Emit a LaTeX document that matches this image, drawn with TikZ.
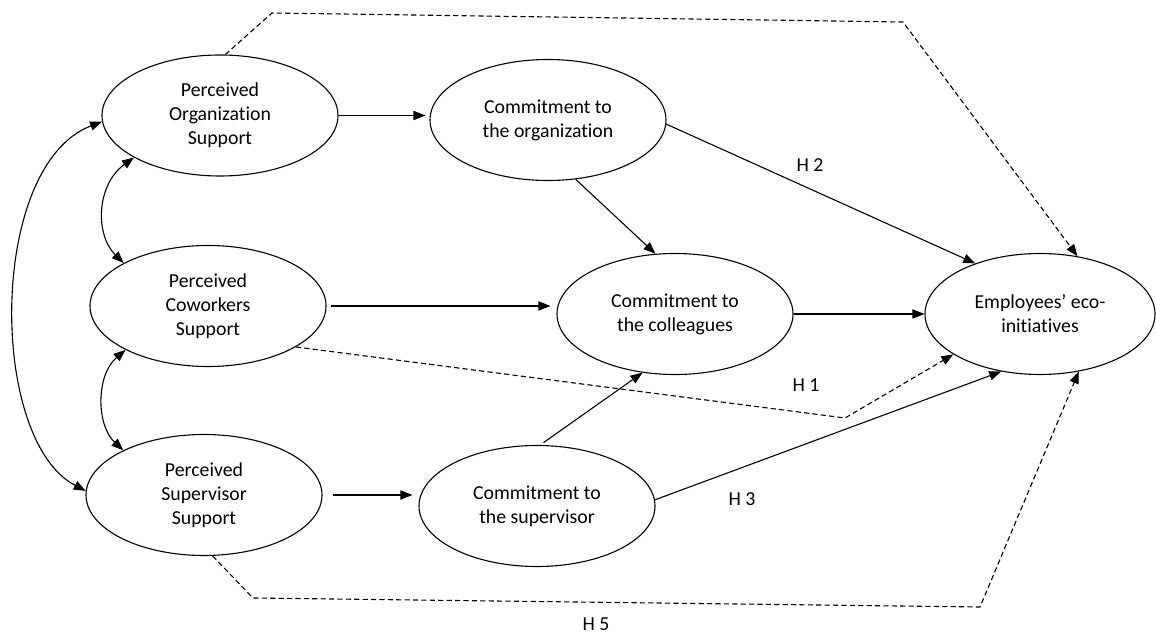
\documentclass[tikz,border=0pt]{standalone}
\usepackage{fontspec}
\setmainfont{Carlito}[Ligatures=NoCommon]
\usetikzlibrary{shapes.geometric,arrows.meta}
\begin{document}
\begin{tikzpicture}[x=0.5pt,y=-0.5pt,
  txt/.style={font=\fontsize{9.9}{12}\selectfont},
  construct/.style={ellipse,draw,line width=0.55pt,inner sep=0pt,
    minimum width=118pt,minimum height=60.5pt,align=center,txt},
  tip/.tip={Triangle[length=6pt,width=4.6pt]},
  link/.style={line width=0.55pt,-tip},
  both/.style={line width=0.55pt,tip-tip},
  hyp/.style={line width=0.55pt,dash pattern=on 2.6pt off 1.6pt},
  hyptip/.style={hyp,-tip},
  lab/.style={txt,inner sep=0pt}]
\useasboundingbox (0,0) rectangle (1156,635);

% constructs
\node[construct] (POS) at (220,115.5) {Perceived\\Organization\\Support};
\node[construct] (PCS) at (208,306) {Perceived\\Coworkers\\Support};
\node[construct] (PSS) at (204,495) {Perceived\\Supervisor\\Support};
\node[construct] (CO) at (548,120) {Commitment to\\the organization};
\node[construct] (CC) at (675,314) {Commitment to\\the colleagues};
\node[construct] (CS) at (537,506) {Commitment to\\the supervisor};
\node[construct,minimum width=115pt] (EE) at (1040,314) {Employees’ eco-\\initiatives};

% hypothesis labels
\node[lab] (H2) at (810,165) {H 2};
\node[lab] (H1) at (806,385) {H 1};
\node[lab] (H3) at (742,499) {H 3};
\node[lab] (H5) at (596,624) {H 5};

% bends of the dashed paths
\coordinate (a1) at (272,13);
\coordinate (a2) at (903,22);
\coordinate (b1) at (845,418);
\coordinate (c1) at (253,598);
\coordinate (c2) at (980,607);

% direct paths
\draw[link,shorten >=2pt] (POS.east) -- (POS.east -| CO.west);
\draw[link,shorten <=2pt,shorten >=3pt] (PCS.east) -- (PCS.east -| CC.west);
\draw[link,shorten <=5pt,shorten >=3pt] (PSS.east) -- (PSS.east -| CS.west);
\draw[link] (CO.295) -- (CC.108);
\draw[link,shorten <=2pt] (CS.87) -- (CC.241);
\draw[link] (CO.-2) -- (EE.142);
\draw[link] (CC.east) -- (EE.west);
\draw[link] (CS.3) -- (EE.236);

% dashed hypothesis paths
\draw[hyptip] (PCS.-25) -- (b1) -- (EE.205);
\draw[hyptip] (POS.85) -- (a1) -- (a2) -- (EE.57);
\draw[hyptip] (PSS.278) -- (c1) -- (c2) -- (EE.304);

% correlations between the support constructs
\draw[both] (POS.206) .. controls (96,185) and (95,235) .. (PCS.153);
\draw[both] (PCS.208) .. controls (96,375) and (96,425) .. (PSS.151);
\draw[both] (POS.183) .. controls (-12,165) and (-12,440) .. (PSS.178);
\end{tikzpicture}
\end{document}
